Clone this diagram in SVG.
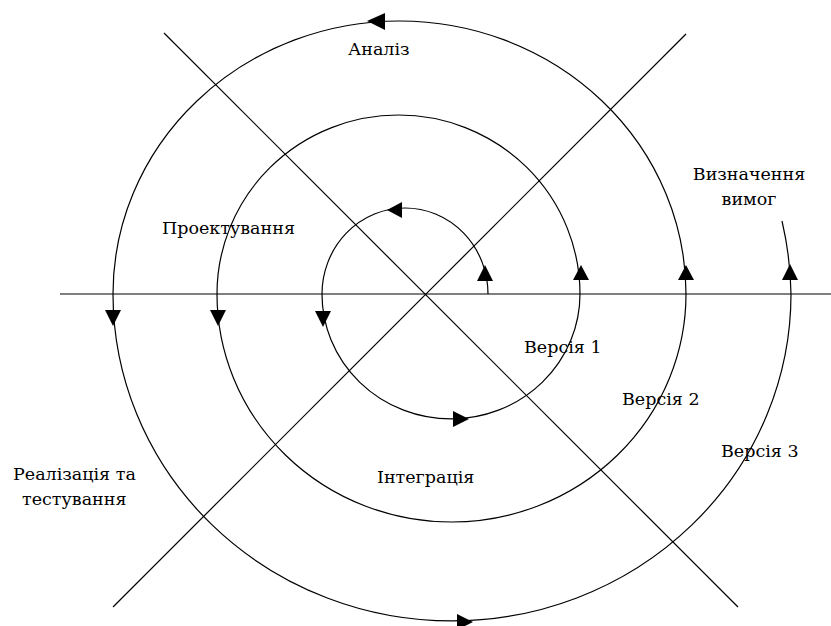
<svg xmlns="http://www.w3.org/2000/svg" width="831" height="626" viewBox="0 0 831 626">
<style>
.ln{stroke:#000;stroke-width:1.2;fill:none}
.ar{fill:#000;stroke:none}
.t{font-family:'DejaVu Serif',serif;font-size:17.5px;fill:#000}
</style>
<rect width="831" height="626" fill="#fff"/>
<g id="connectors">
<line class="ln" x1="60" y1="294" x2="831" y2="294"/>
<line class="ln" x1="164" y1="33" x2="738" y2="607"/>
<line class="ln" x1="686" y1="34" x2="113" y2="607"/>
<path class="ln" d="M488,294 A83,86 0 0 0 322,294 A129,125 0 0 0 580,294 A181.5,179 0 0 0 217,294 A234.5,228 0 0 0 686,294 A286.5,273 0 0 0 113,294 A339,327 0 0 0 791,294 A391.5,366 0 0 0 782,221"/>
<polygon class="ar" points="367,21 385,13 385,30"/>
<polygon class="ar" points="387,210 402,202 402,218"/>
<polygon class="ar" points="485,265 477,281 493,281"/>
<polygon class="ar" points="581,265 573,280 589,280"/>
<polygon class="ar" points="686,265 678,280 694,280"/>
<polygon class="ar" points="790,264 782,280 798,280"/>
<polygon class="ar" points="113,326 105,310 121,310"/>
<polygon class="ar" points="218,326 210,310 226,310"/>
<polygon class="ar" points="323,327 315,311 331,311"/>
<polygon class="ar" points="469,419 453,411 453,427"/>
<polygon class="ar" points="473,622 457,614 457,630"/>
</g>
<g id="analiz"><text class="t" x="348" y="55">Аналіз</text></g>
<g id="proektuvannia"><text class="t" x="162" y="234">Проектування</text></g>
<g id="vyznachennia"><text class="t" x="749" y="180" text-anchor="middle">Визначення</text><text class="t" x="749" y="205" text-anchor="middle">вимог</text></g>
<g id="versia1"><text class="t" x="524" y="353">Версія 1</text></g>
<g id="versia2"><text class="t" x="622" y="405">Версія 2</text></g>
<g id="versia3"><text class="t" x="721" y="457">Версія 3</text></g>
<g id="integratsia"><text class="t" x="377" y="483">Інтеграція</text></g>
<g id="realizatsia"><text class="t" x="13" y="480">Реалізація та</text><text class="t" x="22" y="505">тестування</text></g>
</svg>
